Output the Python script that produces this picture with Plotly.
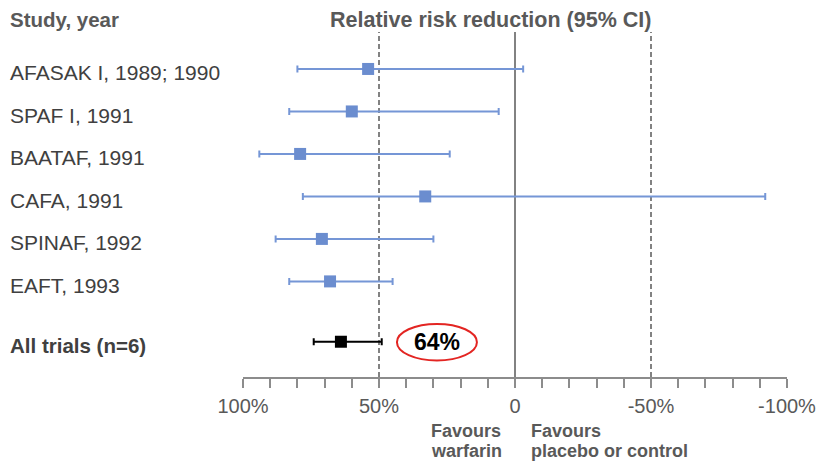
import plotly.graph_objects as go

# Trial data: relative risk reduction (%) with 95% CI bounds
studies = ["AFASAK I, 1989; 1990", "SPAF I, 1991", "BAATAF, 1991",
           "CAFA, 1991", "SPINAF, 1992", "EAFT, 1993"]
rrr = [54, 60, 79, 33, 71, 68]
ci_upper = [80, 83, 94, 78, 88, 83]    # largest reduction
ci_lower = [-3, 6, 24, -92, 30, 45]    # smallest reduction

pooled_label = "All trials (n=6)"
pooled_rrr = 64
pooled_upper = 74
pooled_lower = 49

tick_vals = [100, 50, 0, -50, -100]
tick_text = ["100%", "50%", "0", "-50%", "-100%"]

row_y = list(range(len(studies)))
pooled_y = 6.42

BLUE = "#6B8DCF"
BLUE_LINE = "#7596D6"
GREY = "#595959"
TXT = "#404040"
FONT = "Liberation Sans, Arial, sans-serif"

# plot-area geometry in pixels (used to place captions in paper units)
L, R, T, B = 243.3, 32.3, 32, 86
PW = 819 - L - R
PH = 463 - T - B


def px_x(xp):
    return (xp - L) / PW


def px_y(yp):
    return (463 - B - yp) / PH


fig = go.Figure()

fig.add_trace(go.Scatter(
    x=rrr, y=row_y, mode="markers",
    marker=dict(symbol="square", size=12, color=BLUE),
    error_x=dict(type="data", symmetric=False,
                 array=[u - v for u, v in zip(ci_upper, rrr)],
                 arrayminus=[v - l for v, l in zip(rrr, ci_lower)],
                 color=BLUE_LINE, thickness=2, width=3.5),
    hoverinfo="skip", showlegend=False,
))

fig.add_trace(go.Scatter(
    x=[pooled_rrr], y=[pooled_y], mode="markers",
    marker=dict(symbol="square", size=12, color="black"),
    error_x=dict(type="data", symmetric=False,
                 array=[pooled_upper - pooled_rrr],
                 arrayminus=[pooled_rrr - pooled_lower],
                 color="black", thickness=2, width=3.5),
    hoverinfo="skip", showlegend=False,
))

# Reference lines: no effect and +/-50%
fig.add_shape(type="line", xref="x", yref="paper", x0=0, x1=0, y0=0, y1=1,
              line=dict(color=GREY, width=1.5), layer="below")
for xv in (50, -50):
    fig.add_shape(type="line", xref="x", yref="paper", x0=xv, x1=xv, y0=0, y1=1,
                  line=dict(color=GREY, width=1.5, dash="5px,3px"),
                  layer="below")

# Highlight of the pooled estimate
fig.add_shape(type="circle", xref="x", yref="y",
              x0=43.4, x1=14.0, y0=6.0, y1=6.86,
              line=dict(color="#E32522", width=2))
fig.add_annotation(x=28.7, y=pooled_y, xref="x", yref="y",
                   text=f"<b>{pooled_rrr}%</b>", showarrow=False,
                   xanchor="center", yanchor="middle",
                   font=dict(family=FONT, size=23, color="black"))

# Study labels on the left
LX = px_x(8.5)
for name, yv in zip(studies, row_y):
    fig.add_annotation(x=LX, y=yv, xref="paper", yref="y", text=name,
                       showarrow=False, xanchor="left", yanchor="middle",
                       yshift=-4,
                       font=dict(family=FONT, size=21, color=TXT))
fig.add_annotation(x=LX, y=pooled_y, xref="paper", yref="y",
                   text=f"<b>{pooled_label}</b>", showarrow=False,
                   xanchor="left", yanchor="middle", yshift=-4,
                   font=dict(family=FONT, size=20.5, color=TXT))

# Column headers
fig.add_annotation(x=LX, y=px_y(20), xref="paper", yref="paper",
                   text="<b>Study, year</b>", showarrow=False,
                   xanchor="left", yanchor="middle",
                   font=dict(family=FONT, size=20.5, color=GREY))
fig.add_annotation(x=px_x(491), y=px_y(20), xref="paper", yref="paper",
                   text="<b>Relative risk reduction (95% CI)</b>",
                   showarrow=False, xanchor="center", yanchor="middle",
                   font=dict(family=FONT, size=21.5, color=GREY))

# Direction captions under the axis
for xpix, lines in ((429, ["Favours", "warfarin"]),
                    (529, ["Favours", "placebo or control"])):
    for ypix, line in zip((431, 451), lines):
        fig.add_annotation(x=px_x(xpix), y=px_y(ypix),
                           xref="paper", yref="paper", text=f"<b>{line}</b>",
                           showarrow=False, xanchor="left", yanchor="middle",
                           font=dict(family=FONT, size=18, color=GREY))

fig.update_xaxes(
    range=[100, -100], tickvals=tick_vals, ticktext=tick_text,
    showgrid=False, zeroline=False, showline=True, linecolor="#8C8C8C",
    linewidth=1.5, ticks="outside", ticklen=9, tickwidth=1.5,
    tickcolor="#8C8C8C", ticklabelstandoff=1,
    tickfont=dict(family=FONT, size=20, color=GREY),
    minor=dict(dtick=10, tick0=0, ticks="outside", ticklen=9, tickwidth=1.5,
               tickcolor="#8C8C8C", showgrid=False),
    fixedrange=True,
)
fig.update_yaxes(range=[7.25, -0.87], visible=False, showgrid=False,
                 zeroline=False, fixedrange=True)

fig.update_layout(
    width=819, height=463,
    margin=dict(l=L, r=R, t=T, b=B, autoexpand=False),
    paper_bgcolor="white", plot_bgcolor="white",
    font=dict(family=FONT),
)

fig.write_html("out.html", config={"displayModeBar": False})
